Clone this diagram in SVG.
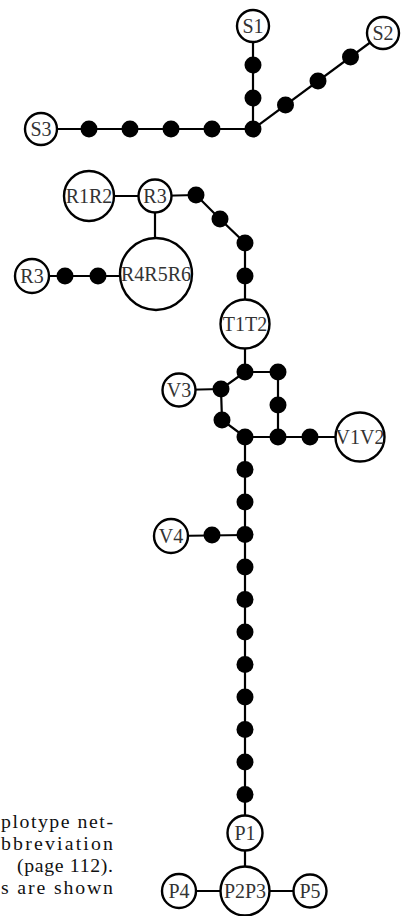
<svg xmlns="http://www.w3.org/2000/svg" width="401" height="916" viewBox="0 0 401 916">
<style>
.edge{stroke:#000;stroke-width:2.2;fill:none}
.hap{fill:#fff;stroke:#000;stroke-width:2.4}
.dot{fill:#000}
text{font-family:"Liberation Serif","DejaVu Serif","Times New Roman",serif}
.lbl{font-size:20px;fill:#333;text-anchor:middle;dominant-baseline:central}
.cap{font-size:19.8px;fill:#111}
</style>
<rect width="401" height="916" fill="#fff"/>
<g id="connectors">
<line class="edge" x1="253" y1="26" x2="253" y2="129"/>
<line class="edge" x1="41" y1="129" x2="253" y2="129"/>
<line class="edge" x1="253" y1="129" x2="383" y2="33"/>
<line class="edge" x1="89" y1="196" x2="155" y2="196"/>
<line class="edge" x1="155" y1="196" x2="196" y2="195"/>
<polyline class="edge" points="196,195 220,219 245,243 245,276 245,324"/>
<line class="edge" x1="155" y1="196" x2="155" y2="274"/>
<line class="edge" x1="32" y1="276" x2="156" y2="276"/>
<line class="edge" x1="245" y1="324" x2="245" y2="372"/>
<polyline class="edge" points="245,372 278,372 278,405 278,437"/>
<polyline class="edge" points="245,372 221,389 222,420 245,437"/>
<line class="edge" x1="179" y1="390" x2="221" y2="389"/>
<line class="edge" x1="245" y1="437" x2="360" y2="437"/>
<line class="edge" x1="245" y1="437" x2="245" y2="891"/>
<line class="edge" x1="171" y1="536" x2="245" y2="535"/>
<line class="edge" x1="179" y1="891" x2="310" y2="891"/>
</g>
<g id="medians">
<g id="m-s1a"><circle class="dot" cx="253" cy="65" r="8.5"/></g>
<g id="m-s1b"><circle class="dot" cx="253" cy="98" r="8.5"/></g>
<g id="m-sj"><circle class="dot" cx="253" cy="129" r="8.5"/></g>
<g id="m-s3a"><circle class="dot" cx="89" cy="129" r="8.5"/></g>
<g id="m-s3b"><circle class="dot" cx="130" cy="129" r="8.5"/></g>
<g id="m-s3c"><circle class="dot" cx="171" cy="129" r="8.5"/></g>
<g id="m-s3d"><circle class="dot" cx="212" cy="129" r="8.5"/></g>
<g id="m-s2a"><circle class="dot" cx="285.5" cy="105" r="8.5"/></g>
<g id="m-s2b"><circle class="dot" cx="318" cy="81" r="8.5"/></g>
<g id="m-s2c"><circle class="dot" cx="350.5" cy="57" r="8.5"/></g>
<g id="m-r1"><circle class="dot" cx="196" cy="195" r="8.5"/></g>
<g id="m-r2"><circle class="dot" cx="220" cy="219" r="8.5"/></g>
<g id="m-r3"><circle class="dot" cx="245" cy="243" r="8.5"/></g>
<g id="m-r4"><circle class="dot" cx="245" cy="276" r="8.5"/></g>
<g id="m-r5"><circle class="dot" cx="65" cy="276" r="8.5"/></g>
<g id="m-r6"><circle class="dot" cx="98" cy="276" r="8.5"/></g>
<g id="m-t1"><circle class="dot" cx="245" cy="372" r="8.5"/></g>
<g id="m-t2"><circle class="dot" cx="278" cy="372" r="8.5"/></g>
<g id="m-t3"><circle class="dot" cx="278" cy="405" r="8.5"/></g>
<g id="m-t4"><circle class="dot" cx="221" cy="389" r="8.5"/></g>
<g id="m-t5"><circle class="dot" cx="222" cy="420" r="8.5"/></g>
<g id="m-vj"><circle class="dot" cx="245" cy="437" r="8.5"/></g>
<g id="m-v1"><circle class="dot" cx="278" cy="437" r="8.5"/></g>
<g id="m-v2"><circle class="dot" cx="310" cy="437" r="8.5"/></g>
<g id="m-p1"><circle class="dot" cx="245" cy="469.5" r="8.5"/></g>
<g id="m-p2"><circle class="dot" cx="245" cy="502" r="8.5"/></g>
<g id="m-p3"><circle class="dot" cx="245" cy="534.5" r="8.5"/></g>
<g id="m-p4"><circle class="dot" cx="245" cy="567" r="8.5"/></g>
<g id="m-p5"><circle class="dot" cx="245" cy="599.5" r="8.5"/></g>
<g id="m-p6"><circle class="dot" cx="245" cy="632" r="8.5"/></g>
<g id="m-p7"><circle class="dot" cx="245" cy="664.5" r="8.5"/></g>
<g id="m-p8"><circle class="dot" cx="245" cy="697" r="8.5"/></g>
<g id="m-p9"><circle class="dot" cx="245" cy="729.5" r="8.5"/></g>
<g id="m-p10"><circle class="dot" cx="245" cy="762" r="8.5"/></g>
<g id="m-p11"><circle class="dot" cx="245" cy="794.5" r="8.5"/></g>
<g id="m-v4"><circle class="dot" cx="212" cy="535" r="8.5"/></g>
</g>
<g id="S1"><circle class="hap" cx="253" cy="26" r="16"/><text class="lbl" x="253" y="26">S1</text></g>
<g id="S2"><circle class="hap" cx="383" cy="33" r="16"/><text class="lbl" x="383" y="33">S2</text></g>
<g id="S3"><circle class="hap" cx="41" cy="129" r="16"/><text class="lbl" x="41" y="129">S3</text></g>
<g id="R1R2"><circle class="hap" cx="89" cy="196" r="25"/><text class="lbl" x="89" y="196">R1R2</text></g>
<g id="R3a"><circle class="hap" cx="155" cy="196" r="16.5"/><text class="lbl" x="155" y="196">R3</text></g>
<g id="R4R5R6"><circle class="hap" cx="156" cy="274" r="36"/><text class="lbl" x="156" y="274">R4R5R6</text></g>
<g id="R3b"><circle class="hap" cx="32" cy="276" r="17"/><text class="lbl" x="32" y="276">R3</text></g>
<g id="T1T2"><circle class="hap" cx="245" cy="324" r="24.5"/><text class="lbl" x="245" y="324">T1T2</text></g>
<g id="V3"><circle class="hap" cx="179" cy="390" r="16.5"/><text class="lbl" x="179" y="390">V3</text></g>
<g id="V1V2"><circle class="hap" cx="360" cy="437" r="24.5"/><text class="lbl" x="360" y="437">V1V2</text></g>
<g id="V4"><circle class="hap" cx="171" cy="536" r="17"/><text class="lbl" x="171" y="536">V4</text></g>
<g id="P1"><circle class="hap" cx="245" cy="833" r="17.5"/><text class="lbl" x="245" y="833">P1</text></g>
<g id="P2P3"><circle class="hap" cx="245" cy="891" r="24.5"/><text class="lbl" x="245" y="891">P2P3</text></g>
<g id="P4"><circle class="hap" cx="179" cy="891" r="17"/><text class="lbl" x="179" y="891">P4</text></g>
<g id="P5"><circle class="hap" cx="310" cy="891" r="16.5"/><text class="lbl" x="310" y="891">P5</text></g>
<g id="caption">
<text class="cap" x="1" y="828" textLength="112" lengthAdjust="spacing">plotype net-</text>
<text class="cap" x="1" y="850" textLength="112" lengthAdjust="spacing">bbreviation</text>
<text class="cap" x="17" y="872" textLength="96" lengthAdjust="spacing">(page 112).</text>
<text class="cap" x="1" y="894" textLength="112" lengthAdjust="spacing">s are shown</text>
</g>
</svg>
